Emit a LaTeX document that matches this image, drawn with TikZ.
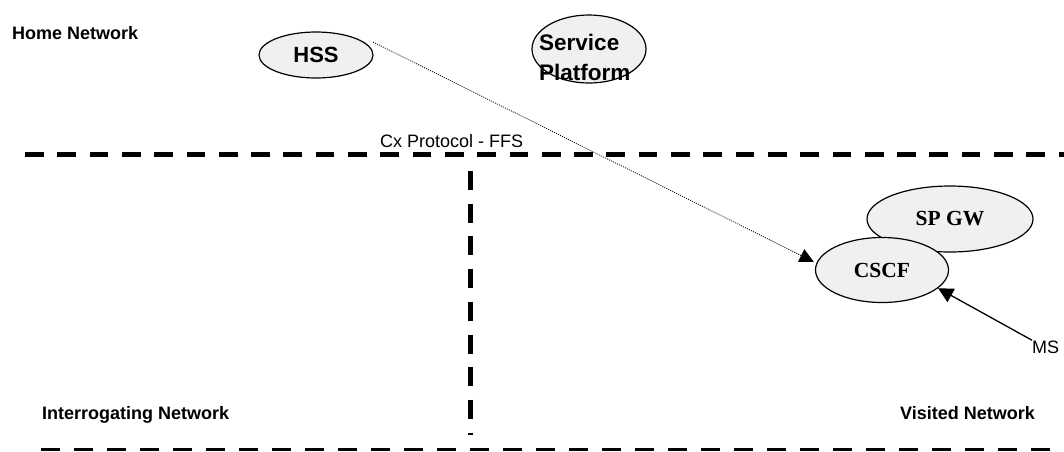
\documentclass[tikz,border=0pt]{standalone}
\usepackage{fontspec}
\setmainfont{Liberation Sans}
\newfontfamily\timesfont{Liberation Serif}
\usetikzlibrary{arrows.meta,shapes.geometric}
\begin{document}
\begin{tikzpicture}[x=1pt,y=-1pt,
  netlabel/.style={font=\fontsize{18}{21}\selectfont\bfseries, inner sep=0pt, anchor=base west},
  plainlabel/.style={font=\fontsize{18}{21}\selectfont, inner sep=0pt, anchor=base west},
  ellnode/.style={ellipse, draw=black, line width=1.2pt, fill=black!6, inner sep=0pt},
  sansell/.style={ellnode, font=\fontsize{22}{25}\selectfont\bfseries},
  serifell/.style={ellnode, font=\fontsize{21.5}{24}\selectfont\timesfont\bfseries},
  boundtop/.style={line width=4.5pt, dash pattern=on 18.7pt off 13.6pt},
  boundvert/.style={line width=4.5pt, dash pattern=on 19pt off 13.7pt},
  boundbot/.style={line width=3pt, dash pattern=on 19pt off 14pt},
  cxline/.style={line width=0.8pt, dash pattern=on 1pt off 1.2pt, -{Triangle[length=14pt,width=14pt]}},
  msline/.style={line width=1.3pt, -{Triangle[length=15pt,width=15pt]}}
]
\fill[white] (0,0) rectangle (1064,451);
\useasboundingbox (0,0) rectangle (1064,451);

% network boundaries
\draw[boundtop] (25,154.5) -- (1064,154.5);
\draw[boundvert] (470.5,171) -- (470.5,435);
\draw[boundbot] (41,449.5) -- (1064,449.5);

% region labels
\node[netlabel] (home) at (12,39) {Home Network};
\node[netlabel] (interr) at (42,419) {Interrogating Network};
\node[netlabel] (visited) at (900,419) {Visited Network};

% elements
\node[sansell, minimum width=114pt, minimum height=46pt] (hss) at (316,55) {HSS};
\node[ellnode, minimum width=114pt, minimum height=68pt] (spf) at (589,49) {};
\node[font=\fontsize{22.5}{30}\selectfont\bfseries, inner sep=0pt, anchor=north west, align=left] (spftext) at (539,34) {Service\\Platform};
\node[serifell, minimum width=166pt, minimum height=66pt] (spgw) at (950,219) {SP GW};
\node[serifell, minimum width=133pt, minimum height=65pt] (cscf) at (882,270) {CSCF};

% labels
\node[plainlabel] (cx) at (380,147) {Cx Protocol - FFS};
\node[plainlabel] (ms) at (1032,353) {MS};

% connectors
\coordinate (cxstart) at (373,42);
\draw[cxline, shorten >=3pt] (cxstart) -- (cscf.174);
\draw[msline] (ms.north west) -- (cscf.-18);
\end{tikzpicture}
\end{document}
